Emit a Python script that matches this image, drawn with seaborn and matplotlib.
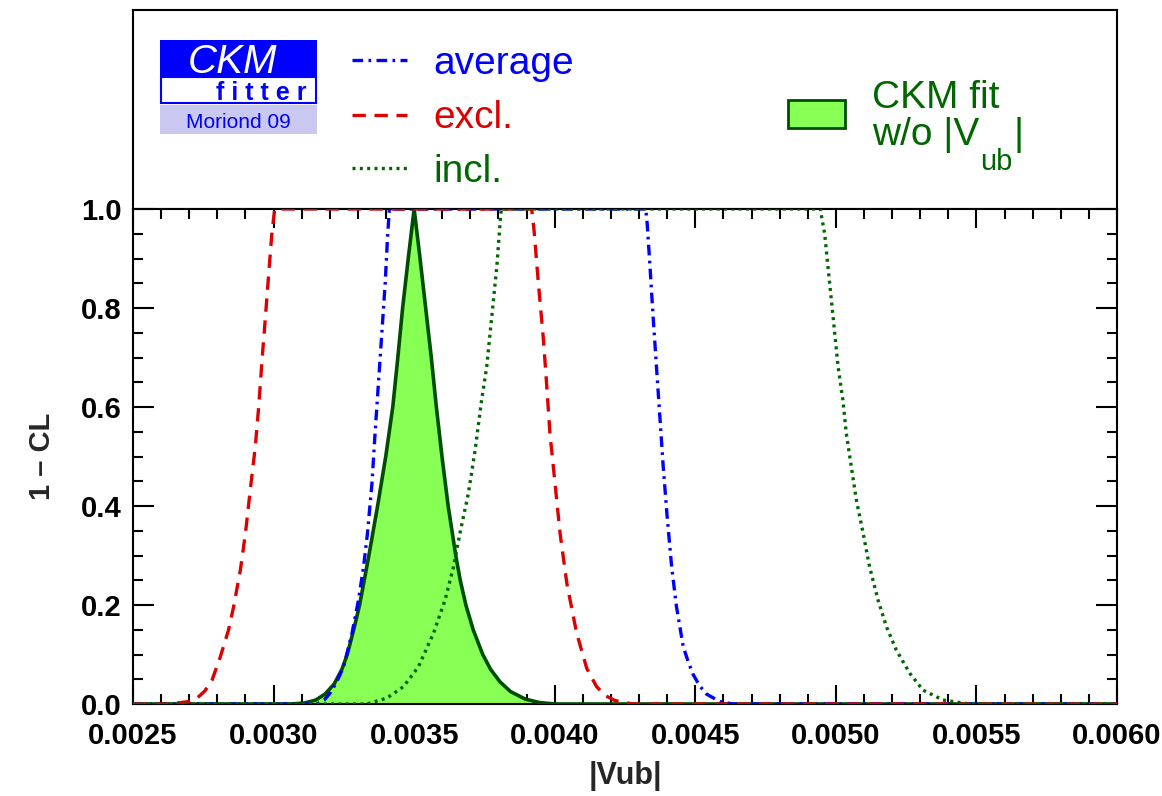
import numpy as np
import pandas as pd
import matplotlib
matplotlib.use("Agg")
import matplotlib.pyplot as plt
from matplotlib.patches import Rectangle
from matplotlib.lines import Line2D
from matplotlib.ticker import MultipleLocator, FormatStrFormatter
import seaborn as sns

# ---- 1-CL profiles for |Vub| ----
excl_x = [0.0025, 0.00262, 0.002657, 0.002700, 0.002728, 0.002755, 0.002781, 0.002811,
          0.00284, 0.002858, 0.002882, 0.0029, 0.002917, 0.002935, 0.002947, 0.002959,
          0.002971, 0.002982, 0.002994, 0.003004, 0.003918, 0.003926, 0.003942, 0.00396,
          0.003971, 0.003983, 0.004001, 0.004019, 0.004043, 0.004078, 0.004114, 0.004149,
          0.004180, 0.004214, 0.004278, 0.0060]
excl_y = [0.0, 0.0, 0.002, 0.005, 0.012, 0.026, 0.048, 0.096,
          0.15, 0.197, 0.271, 0.345, 0.432, 0.52, 0.6, 0.695,
          0.782, 0.864, 0.951, 1.0, 1.0, 0.96, 0.85, 0.735,
          0.648, 0.547, 0.446, 0.345, 0.244, 0.143, 0.072, 0.035,
          0.017, 0.007, 0.0, 0.0]

avg_x = [0.0025, 0.003154, 0.003180, 0.003201, 0.003225, 0.003249, 0.003279, 0.003302,
         0.00332, 0.003334, 0.00335, 0.003361, 0.003373, 0.003385, 0.003397, 0.003406,
         0.003412, 0.004324, 0.004329, 0.004339, 0.00435, 0.004362, 0.004374, 0.004386,
         0.0044, 0.004416, 0.004433, 0.004457, 0.004475, 0.004492, 0.004515, 0.00454,
         0.004587, 0.004634, 0.0060]
avg_y = [0.0, 0.0, 0.008, 0.022, 0.045, 0.075, 0.143, 0.21,
         0.277, 0.345, 0.446, 0.547, 0.648, 0.749, 0.85, 0.95,
         1.0, 1.0, 0.97, 0.883, 0.782, 0.681, 0.58, 0.479,
         0.378, 0.277, 0.197, 0.116, 0.085, 0.06, 0.037, 0.02,
         0.005, 0.0, 0.0]

incl_x = [0.0025, 0.003332, 0.003403, 0.003462, 0.003515, 0.003569, 0.00361, 0.00364,
          0.003663, 0.003693, 0.003717, 0.00374, 0.003758, 0.003776, 0.003794, 0.003806,
          0.00381, 0.004945, 0.004949, 0.00496, 0.004972, 0.004984, 0.004996, 0.005008,
          0.005025, 0.005037, 0.005055, 0.005073, 0.005097, 0.00512, 0.00515, 0.00518,
          0.005215, 0.005263, 0.00531, 0.005381, 0.005476, 0.0060]
incl_y = [0.0, 0.0, 0.012, 0.035, 0.075, 0.143, 0.21, 0.277,
          0.345, 0.426, 0.513, 0.614, 0.681, 0.782, 0.883, 0.975,
          1.0, 1.0, 0.985, 0.951, 0.883, 0.816, 0.749, 0.681,
          0.614, 0.547, 0.479, 0.412, 0.345, 0.277, 0.21, 0.156,
          0.109, 0.062, 0.028, 0.008, 0.0, 0.0]

fit_x = [0.0025, 0.00300, 0.003060, 0.003110, 0.003150, 0.003183, 0.003215, 0.003243,
         0.003262, 0.003285, 0.003306, 0.003339, 0.003370, 0.003399, 0.003424, 0.003442,
         0.003459, 0.003479, 0.0035, 0.003521, 0.003541, 0.003561, 0.003579, 0.003599,
         0.003621, 0.003648, 0.003664, 0.003684, 0.003710, 0.003744, 0.003772, 0.003805,
         0.003843, 0.003895, 0.003945, 0.004000, 0.0045, 0.0060]
fit_y = [0.0, 0.0, 0.0, 0.002, 0.008, 0.02, 0.04, 0.07,
         0.1, 0.15, 0.2, 0.3, 0.4, 0.5, 0.6, 0.7,
         0.8, 0.9, 1.0, 0.9, 0.8, 0.7, 0.6, 0.5,
         0.4, 0.3, 0.25, 0.2, 0.15, 0.1, 0.07, 0.045,
         0.025, 0.01, 0.003, 0.0, 0.0, 0.0]

series_labels = ["average", "excl.", "incl."]
fit_label_1 = "CKM fit"
fit_label_2 = "w/o |V"
fit_label_sub = "ub"
x_label = "|Vub|"
y_label = "1 \u2013 CL"
logo_top = "CKM"
logo_mid = "f i t t e r"
logo_bottom = "Moriond 09"

BLUE = "#0000ff"
RED = "#dd0000"
GREEN = "#006600"
FIT_EDGE = "#004d00"
FIT_FILL = "#88ff55"

sns.set_theme(style="ticks")
plt.rcParams["font.family"] = ["Liberation Sans", "DejaVu Sans"]
plt.rcParams["axes.linewidth"] = 1.5

W, H = 1162, 796
fig = plt.figure(figsize=(W / 100, H / 100), dpi=100)
fig.patch.set_facecolor("white")

L, R, T_PLOT, B_PLOT, T_LEG = 133, 1117, 209, 704, 10
ax = fig.add_axes([L / W, 1 - B_PLOT / H, (R - L) / W, (B_PLOT - T_PLOT) / H])
lax = fig.add_axes([L / W, 1 - T_PLOT / H, (R - L) / W, (T_PLOT - T_LEG) / H])

# ---- curves ----
fit_df = pd.DataFrame({"x": fit_x, "y": fit_y})
ax.fill_between(fit_df["x"], 0, fit_df["y"], color=FIT_FILL, lw=0, zorder=1)
sns.lineplot(data=fit_df, x="x", y="y", ax=ax, color=FIT_EDGE, lw=2.6,
             estimator=None, zorder=3)

curves = [
    (avg_x, avg_y, BLUE, (0, (3.2, 1.6, 0.8, 1.6))),
    (excl_x, excl_y, RED, (0, (4.0, 2.6))),
    (incl_x, incl_y, GREEN, (0, (0.9, 1.3))),
]
for (cx, cy, col, ls), lab in zip(curves, series_labels):
    df = pd.DataFrame({"x": cx, "y": cy})
    sns.lineplot(data=df, x="x", y="y", ax=ax, color=col, lw=2.4,
                 linestyle=ls, estimator=None, zorder=4)

ax.set_xlim(0.0025, 0.0060)
ax.set_ylim(0.0, 1.0)
ax.xaxis.set_major_locator(MultipleLocator(0.0005))
ax.xaxis.set_minor_locator(MultipleLocator(0.0001))
ax.yaxis.set_major_locator(MultipleLocator(0.2))
ax.yaxis.set_minor_locator(MultipleLocator(0.05))
ax.xaxis.set_major_formatter(FormatStrFormatter("%.4f"))
ax.yaxis.set_major_formatter(FormatStrFormatter("%.1f"))
ax.tick_params(axis="both", which="both", direction="in", top=True, right=True,
               colors="black", width=1.5)
ax.tick_params(axis="x", which="major", length=14, pad=13, labelsize=21)
ax.tick_params(axis="x", which="minor", length=7)
ax.tick_params(axis="y", which="major", length=15, pad=8, labelsize=21)
ax.tick_params(axis="y", which="minor", length=7.5)
for lbl in ax.get_xticklabels() + ax.get_yticklabels():
    lbl.set_fontweight("bold")
for s in ax.spines.values():
    s.set_visible(True)
    s.set_linewidth(1.5)
    s.set_color("black")
ax.set_zorder(2)

ax.set_xlabel(x_label, fontsize=22, fontweight="bold")
ax.set_ylabel(y_label, fontsize=21, fontweight="bold")
ax.xaxis.set_label_coords(0.5, -0.145)
ax.xaxis.label.set_va("center")
ax.yaxis.set_label_coords(-0.0925, 0.5)
ax.yaxis.label.set_va("center")

# ---- legend panel (pixel coordinates) ----
lax.set_xlim(L, R)
lax.set_ylim(T_PLOT, T_LEG)
lax.set_xticks([])
lax.set_yticks([])
for s in lax.spines.values():
    s.set_linewidth(1.5)
    s.set_color("black")

# logo
lax.add_patch(Rectangle((160, 40), 157, 37, facecolor=BLUE, edgecolor="none"))
lax.add_patch(Rectangle((161, 77), 155, 26, facecolor="white", edgecolor=BLUE, lw=1.5))
lax.add_patch(Rectangle((160, 105), 157, 29, facecolor="#c8c8f0", edgecolor="none"))
lax.text(233, 73, logo_top, color="white", fontsize=29, fontstyle="italic",
         ha="center", va="baseline")
lax.text(306, 100, logo_mid, color=BLUE, fontsize=18, fontweight="bold",
         ha="right", va="baseline")
lax.text(238, 128.5, logo_bottom, color=BLUE, fontsize=15,
         ha="center", va="baseline")

# line-style entries
entry_y = [60, 115, 168]
entry_base = [73.5, 128, 181.5]
for (cx, cy, col, ls), lab, yy, yb in zip(curves, series_labels, entry_y, entry_base):
    lax.add_line(Line2D([352, 407], [yy, yy], color=col, lw=2.4, linestyle=ls))
    lax.text(433, yb, lab, color=col, fontsize=28, ha="left", va="baseline")

# fit entry
lax.add_patch(Rectangle((788, 100), 57, 28, facecolor=FIT_FILL, edgecolor=FIT_EDGE, lw=2))
lax.text(872, 108.5, fit_label_1, color=GREEN, fontsize=28, ha="left", va="baseline")
t2 = lax.text(872, 145, fit_label_2, color=GREEN, fontsize=28, ha="left", va="baseline")
fig.canvas.draw()
rend = fig.canvas.get_renderer()
inv = lax.transData.inverted()
bb = t2.get_window_extent(rend)
x_end = inv.transform((bb.x1, bb.y0))[0]
t3 = lax.text(x_end + 1, 170, fit_label_sub, color=GREEN, fontsize=21, ha="left", va="baseline")
bb3 = t3.get_window_extent(rend)
x_end3 = inv.transform((bb3.x1, bb3.y0))[0]
lax.text(x_end3 + 1, 145, "|", color=GREEN, fontsize=28, ha="left", va="baseline")

fig.savefig("out.png", dpi=100, facecolor="white")
